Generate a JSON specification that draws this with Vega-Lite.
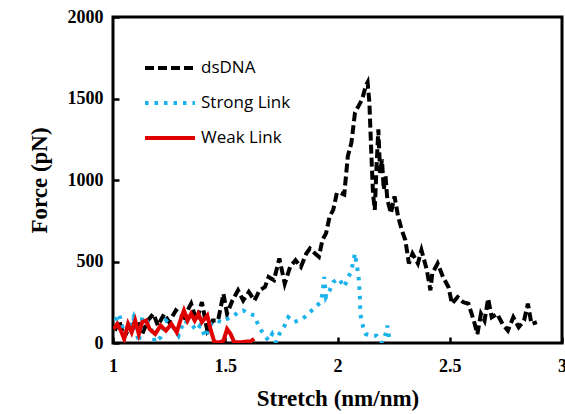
{
  "$schema": "https://vega.github.io/schema/vega-lite/v6.json",
  "width": 449,
  "height": 326,
  "autosize": {"type": "none"},
  "padding": {"left": 113, "top": 17, "right": 3, "bottom": 71},
  "background": "white",
  "config": {
    "view": {"stroke": "black", "strokeWidth": 3},
    "axis": {"grid": false, "domain": false, "tickColor": "black", "tickWidth": 2.5, "labelFont": "Liberation Serif", "labelFontWeight": "bold", "labelFontSize": 18, "labelColor": "black", "titleFont": "Liberation Serif", "titleFontWeight": "bold", "titleFontSize": 23, "titleColor": "black"}
  },
  "data": {"values": [
    {"s":"dsDNA","x":1.008,"y":76},{"s":"dsDNA","x":1.027,"y":138},{"s":"dsDNA","x":1.05,"y":35},{"s":"dsDNA","x":1.075,"y":97},{"s":"dsDNA","x":1.107,"y":138},{"s":"dsDNA","x":1.13,"y":55},{"s":"dsDNA","x":1.155,"y":138},{"s":"dsDNA","x":1.18,"y":179},{"s":"dsDNA","x":1.2,"y":107},{"s":"dsDNA","x":1.228,"y":179},{"s":"dsDNA","x":1.25,"y":128},{"s":"dsDNA","x":1.28,"y":200},{"s":"dsDNA","x":1.316,"y":158},{"s":"dsDNA","x":1.348,"y":241},{"s":"dsDNA","x":1.372,"y":138},{"s":"dsDNA","x":1.396,"y":251},{"s":"dsDNA","x":1.42,"y":76},{"s":"dsDNA","x":1.444,"y":138},{"s":"dsDNA","x":1.468,"y":138},{"s":"dsDNA","x":1.492,"y":302},{"s":"dsDNA","x":1.508,"y":179},{"s":"dsDNA","x":1.532,"y":261},{"s":"dsDNA","x":1.557,"y":323},{"s":"dsDNA","x":1.58,"y":261},{"s":"dsDNA","x":1.605,"y":313},{"s":"dsDNA","x":1.63,"y":261},{"s":"dsDNA","x":1.653,"y":323},{"s":"dsDNA","x":1.677,"y":344},{"s":"dsDNA","x":1.693,"y":405},{"s":"dsDNA","x":1.717,"y":385},{"s":"dsDNA","x":1.741,"y":519},{"s":"dsDNA","x":1.765,"y":364},{"s":"dsDNA","x":1.789,"y":467},{"s":"dsDNA","x":1.813,"y":508},{"s":"dsDNA","x":1.837,"y":467},{"s":"dsDNA","x":1.861,"y":549},{"s":"dsDNA","x":1.877,"y":580},{"s":"dsDNA","x":1.9,"y":549},{"s":"dsDNA","x":1.917,"y":529},{"s":"dsDNA","x":1.933,"y":632},{"s":"dsDNA","x":1.949,"y":673},{"s":"dsDNA","x":1.965,"y":776},{"s":"dsDNA","x":1.981,"y":817},{"s":"dsDNA","x":1.997,"y":920},{"s":"dsDNA","x":2.013,"y":920},{"s":"dsDNA","x":2.03,"y":910},{"s":"dsDNA","x":2.046,"y":1146},{"s":"dsDNA","x":2.062,"y":1229},{"s":"dsDNA","x":2.078,"y":1414},{"s":"dsDNA","x":2.094,"y":1455},{"s":"dsDNA","x":2.11,"y":1496},{"s":"dsDNA","x":2.126,"y":1578},{"s":"dsDNA","x":2.134,"y":1599},{"s":"dsDNA","x":2.142,"y":1476},{"s":"dsDNA","x":2.15,"y":1187},{"s":"dsDNA","x":2.158,"y":920},{"s":"dsDNA","x":2.166,"y":817},{"s":"dsDNA","x":2.174,"y":1085},{"s":"dsDNA","x":2.182,"y":1311},{"s":"dsDNA","x":2.19,"y":1043},{"s":"dsDNA","x":2.198,"y":1126},{"s":"dsDNA","x":2.206,"y":941},{"s":"dsDNA","x":2.214,"y":1023},{"s":"dsDNA","x":2.222,"y":879},{"s":"dsDNA","x":2.238,"y":796},{"s":"dsDNA","x":2.254,"y":899},{"s":"dsDNA","x":2.27,"y":776},{"s":"dsDNA","x":2.286,"y":694},{"s":"dsDNA","x":2.302,"y":632},{"s":"dsDNA","x":2.318,"y":488},{"s":"dsDNA","x":2.334,"y":549},{"s":"dsDNA","x":2.358,"y":488},{"s":"dsDNA","x":2.374,"y":570},{"s":"dsDNA","x":2.398,"y":447},{"s":"dsDNA","x":2.414,"y":323},{"s":"dsDNA","x":2.422,"y":426},{"s":"dsDNA","x":2.446,"y":488},{"s":"dsDNA","x":2.47,"y":405},{"s":"dsDNA","x":2.494,"y":344},{"s":"dsDNA","x":2.51,"y":241},{"s":"dsDNA","x":2.535,"y":282},{"s":"dsDNA","x":2.559,"y":251},{"s":"dsDNA","x":2.583,"y":241},{"s":"dsDNA","x":2.607,"y":138},{"s":"dsDNA","x":2.623,"y":55},{"s":"dsDNA","x":2.639,"y":179},{"s":"dsDNA","x":2.655,"y":138},{"s":"dsDNA","x":2.671,"y":272},{"s":"dsDNA","x":2.687,"y":158},{"s":"dsDNA","x":2.711,"y":179},{"s":"dsDNA","x":2.735,"y":117},{"s":"dsDNA","x":2.759,"y":76},{"s":"dsDNA","x":2.783,"y":158},{"s":"dsDNA","x":2.807,"y":97},{"s":"dsDNA","x":2.831,"y":138},{"s":"dsDNA","x":2.848,"y":241},{"s":"dsDNA","x":2.864,"y":117},{"s":"dsDNA","x":2.888,"y":128},
    {"s":"Strong Link","x":1.011,"y":138},{"s":"Strong Link","x":1.027,"y":179},{"s":"Strong Link","x":1.05,"y":55},{"s":"Strong Link","x":1.075,"y":107},{"s":"Strong Link","x":1.091,"y":158},{"s":"Strong Link","x":1.115,"y":4},{"s":"Strong Link","x":1.13,"y":158},{"s":"Strong Link","x":1.147,"y":148},{"s":"Strong Link","x":1.172,"y":76},{"s":"Strong Link","x":1.187,"y":4},{"s":"Strong Link","x":1.212,"y":35},{"s":"Strong Link","x":1.236,"y":138},{"s":"Strong Link","x":1.268,"y":97},{"s":"Strong Link","x":1.292,"y":45},{"s":"Strong Link","x":1.316,"y":138},{"s":"Strong Link","x":1.348,"y":117},{"s":"Strong Link","x":1.372,"y":76},{"s":"Strong Link","x":1.388,"y":107},{"s":"Strong Link","x":1.412,"y":35},{"s":"Strong Link","x":1.436,"y":117},{"s":"Strong Link","x":1.46,"y":138},{"s":"Strong Link","x":1.484,"y":128},{"s":"Strong Link","x":1.508,"y":148},{"s":"Strong Link","x":1.532,"y":158},{"s":"Strong Link","x":1.557,"y":189},{"s":"Strong Link","x":1.58,"y":200},{"s":"Strong Link","x":1.605,"y":179},{"s":"Strong Link","x":1.63,"y":169},{"s":"Strong Link","x":1.645,"y":117},{"s":"Strong Link","x":1.661,"y":76},{"s":"Strong Link","x":1.677,"y":45},{"s":"Strong Link","x":1.693,"y":14},{"s":"Strong Link","x":1.709,"y":55},{"s":"Strong Link","x":1.725,"y":4},{"s":"Strong Link","x":1.741,"y":55},{"s":"Strong Link","x":1.765,"y":107},{"s":"Strong Link","x":1.781,"y":158},{"s":"Strong Link","x":1.805,"y":128},{"s":"Strong Link","x":1.829,"y":138},{"s":"Strong Link","x":1.853,"y":158},{"s":"Strong Link","x":1.877,"y":189},{"s":"Strong Link","x":1.901,"y":220},{"s":"Strong Link","x":1.925,"y":251},{"s":"Strong Link","x":1.933,"y":302},{"s":"Strong Link","x":1.941,"y":405},{"s":"Strong Link","x":1.949,"y":282},{"s":"Strong Link","x":1.965,"y":323},{"s":"Strong Link","x":1.981,"y":374},{"s":"Strong Link","x":2.006,"y":395},{"s":"Strong Link","x":2.03,"y":344},{"s":"Strong Link","x":2.046,"y":395},{"s":"Strong Link","x":2.062,"y":447},{"s":"Strong Link","x":2.078,"y":549},{"s":"Strong Link","x":2.086,"y":477},{"s":"Strong Link","x":2.094,"y":405},{"s":"Strong Link","x":2.099,"y":302},{"s":"Strong Link","x":2.102,"y":179},{"s":"Strong Link","x":2.11,"y":117},{"s":"Strong Link","x":2.126,"y":55},{"s":"Strong Link","x":2.15,"y":45},{"s":"Strong Link","x":2.174,"y":45},{"s":"Strong Link","x":2.198,"y":0},{"s":"Strong Link","x":2.214,"y":55},{"s":"Strong Link","x":2.222,"y":107},{"s":"Strong Link","x":2.23,"y":35},{"s":"Strong Link","x":2.238,"y":4},
    {"s":"Weak Link","x":1.003,"y":86},{"s":"Weak Link","x":1.019,"y":117},{"s":"Weak Link","x":1.035,"y":76},{"s":"Weak Link","x":1.05,"y":25},{"s":"Weak Link","x":1.067,"y":117},{"s":"Weak Link","x":1.083,"y":66},{"s":"Weak Link","x":1.099,"y":138},{"s":"Weak Link","x":1.115,"y":55},{"s":"Weak Link","x":1.13,"y":128},{"s":"Weak Link","x":1.147,"y":138},{"s":"Weak Link","x":1.163,"y":86},{"s":"Weak Link","x":1.188,"y":55},{"s":"Weak Link","x":1.212,"y":107},{"s":"Weak Link","x":1.236,"y":76},{"s":"Weak Link","x":1.26,"y":117},{"s":"Weak Link","x":1.284,"y":66},{"s":"Weak Link","x":1.3,"y":138},{"s":"Weak Link","x":1.316,"y":200},{"s":"Weak Link","x":1.332,"y":138},{"s":"Weak Link","x":1.348,"y":179},{"s":"Weak Link","x":1.364,"y":138},{"s":"Weak Link","x":1.38,"y":179},{"s":"Weak Link","x":1.396,"y":128},{"s":"Weak Link","x":1.42,"y":169},{"s":"Weak Link","x":1.436,"y":76},{"s":"Weak Link","x":1.452,"y":4},{"s":"Weak Link","x":1.476,"y":4},{"s":"Weak Link","x":1.492,"y":14},{"s":"Weak Link","x":1.508,"y":86},{"s":"Weak Link","x":1.524,"y":55},{"s":"Weak Link","x":1.54,"y":4},{"s":"Weak Link","x":1.565,"y":4},{"s":"Weak Link","x":1.589,"y":8},{"s":"Weak Link","x":1.613,"y":10},{"s":"Weak Link","x":1.629,"y":25}
  ]},
  "mark": {"type": "line", "strokeWidth": 4, "strokeCap": "butt", "clip": true},
  "encoding": {
    "x": {"field": "x", "type": "quantitative", "scale": {"domain": [1, 3], "nice": false}, "axis": {"values": [1, 1.5, 2, 2.5, 3], "format": "~g", "tickSize": -6, "labelPadding": 20, "title": "Stretch (nm/nm)", "titlePadding": 12, "labelFlush": false}},
    "y": {"field": "y", "type": "quantitative", "scale": {"domain": [0, 2000], "nice": false}, "axis": {"values": [0, 500, 1000, 1500, 2000], "format": "d", "tickSize": -6, "labelPadding": 16, "title": "Force (pN)", "titlePadding": 16, "labelFlush": false}},
    "color": {"field": "s", "type": "nominal", "scale": {"domain": ["dsDNA", "Strong Link", "Weak Link"], "range": ["#000000", "#1ab2ea", "#e00000"]}, "legend": {"orient": "none", "legendX": 30, "legendY": 24, "title": null, "symbolType": "stroke", "symbolSize": 2500, "symbolStrokeWidth": 4, "labelFont": "Open Sans", "labelFontSize": 17, "labelColor": "black", "rowPadding": -17, "labelOffset": 4}},
    "strokeDash": {"field": "s", "type": "nominal", "scale": {"domain": ["dsDNA", "Strong Link", "Weak Link"], "range": [[9, 4], [3.5, 6], [1, 0]]}, "legend": null}
  }
}
